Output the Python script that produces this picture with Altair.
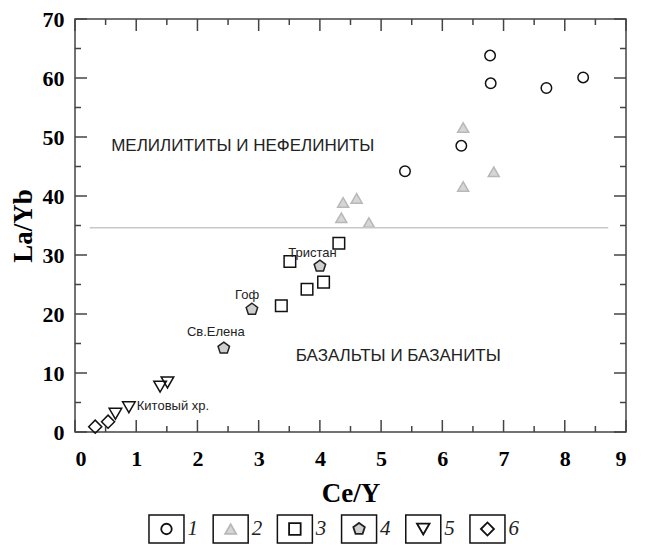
import altair as alt
import pandas as pd

# ---- data ----
circle_x = [6.78, 6.79, 7.70, 8.30, 6.31, 5.39]
circle_y = [63.8, 59.1, 58.3, 60.1, 48.5, 44.2]
tri_x = [6.34, 6.84, 6.34, 4.60, 4.38, 4.35, 4.80]
tri_y = [51.6, 44.1, 41.6, 39.6, 38.9, 36.3, 35.5]
sq_x = [4.31, 3.51, 4.06, 3.79, 3.37]
sq_y = [32.0, 28.9, 25.4, 24.2, 21.4]
pent_x = [4.00, 2.89, 2.43]
pent_y = [28.1, 20.8, 14.2]
tdown_x = [1.51, 1.39, 0.88, 0.66]
tdown_y = [8.4, 7.7, 4.2, 3.1]
dia_x = [0.33, 0.54]
dia_y = [0.9, 1.75]

groups = ["1", "2", "3", "4", "5", "6"]

site_labels = ["Тристан", "Гоф", "Св.Елена", "Китовый хр."]
site_x = [3.88, 2.81, 2.30, 1.60]
site_y = [30.3, 23.3, 16.9, 4.4]

region_labels = ["МЕЛИЛИТИТЫ И НЕФЕЛИНИТЫ", "БАЗАЛЬТЫ И БАЗАНИТЫ"]
region_x = [2.74, 5.28]
region_y = [48.5, 12.85]

line_x1, line_x2, line_y = [0.24], [8.71], [34.6]

x_major = list(range(0, 10))
x_minor = [i + 0.5 for i in range(0, 9)]
y_major = list(range(0, 71, 10))
y_minor = list(range(5, 70, 10))

# ---- build tables ----
rows = []
for g, xs_, ys_ in zip(groups, [circle_x, tri_x, sq_x, pent_x, tdown_x, dia_x],
                       [circle_y, tri_y, sq_y, pent_y, tdown_y, dia_y]):
    for a, b in zip(xs_, ys_):
        rows.append({"g": g, "x": a, "y": b})
pts = pd.DataFrame(rows)
sites = pd.DataFrame({"t": site_labels, "x": site_x, "y": site_y})
regions = pd.DataFrame({"t": region_labels, "x": region_x, "y": region_y})
hline = pd.DataFrame({"x1": line_x1, "x2": line_x2, "y": line_y})

PENT = "M0,-1L0.951,-0.309L0.588,0.809L-0.588,0.809L-0.951,-0.309Z"
shape_range = ["circle", "triangle-up", "square", PENT, "triangle-down", "diamond"]
fill_range = ["transparent", "#d6d6d6", "transparent", "#cfcfcf", "transparent", "transparent"]
stroke_range = ["#111111", "#b8b8b8", "#111111", "#222222", "#111111", "#111111"]

W, H = 551, 413
MAJ, MIN = 12, 6
xs = alt.Scale(domain=[0, 9], nice=False, zero=False)
ys = alt.Scale(domain=[0, 70], nice=False, zero=False)
TC = "#444444"
SERIF = "Liberation Serif"
SANS = "Liberation Sans"

lab_kw = dict(labelFont=SERIF, labelFontWeight="bold", labelFontSize=22,
              labelColor="black", titleFont=SERIF, titleFontWeight="bold",
              titleFontSize=27, titleColor="black", ticks=False, domain=False,
              grid=False)
X_AX = alt.Axis(values=x_major, title="Ce/Y", labelPadding=16, titlePadding=11, **lab_kw)
Y_AX = alt.Axis(values=y_major, title="La/Yb", labelPadding=11, titlePadding=5, **lab_kw)


def X(field):
    return alt.X(field, scale=xs, axis=X_AX)


def Y(field):
    return alt.Y(field, scale=ys, axis=Y_AX)


points = alt.Chart(pts).mark_point(filled=True, strokeWidth=1.5, opacity=1).encode(
    x=X("x:Q"), y=Y("y:Q"),
    shape=alt.Shape("g:N", scale=alt.Scale(domain=groups, range=shape_range), legend=None),
    fill=alt.Fill("g:N", scale=alt.Scale(domain=groups, range=fill_range), legend=None),
    stroke=alt.Stroke("g:N", scale=alt.Scale(domain=groups, range=stroke_range), legend=None),
    size=alt.Size("g:N", scale=alt.Scale(domain=groups, range=[110, 170, 120, 100, 150, 90]),
                  legend=None),
)

rule = alt.Chart(hline).mark_rule(color="#c8c8c8", strokeWidth=1.5).encode(
    x=X("x1:Q"), x2="x2:Q", y=Y("y:Q"),
)


def xticks(values, side, length):
    df = pd.DataFrame({"x": values})
    if side == "bottom":
        yy, yy2 = alt.value(H), alt.value(H - length)
    else:
        yy, yy2 = alt.value(0), alt.value(length)
    return alt.Chart(df).mark_rule(color=TC, strokeWidth=1.5).encode(
        x=X("x:Q"), y=yy, y2=yy2)


def yticks(values, side, length):
    df = pd.DataFrame({"y": values})
    if side == "left":
        xx, xx2 = alt.value(0), alt.value(length)
    else:
        xx, xx2 = alt.value(W), alt.value(W - length)
    return alt.Chart(df).mark_rule(color=TC, strokeWidth=1.5).encode(
        y=Y("y:Q"), x=xx, x2=xx2)


ticks = [xticks(x_major, "bottom", MAJ), xticks(x_minor, "bottom", MIN),
         xticks(x_major, "top", MAJ), xticks(x_minor, "top", MIN),
         yticks(y_major, "left", MAJ), yticks(y_minor, "left", MIN),
         yticks(y_major, "right", MAJ), yticks(y_minor, "right", MIN)]

site_text = alt.Chart(sites).mark_text(font=SANS, fontSize=13, color="#222222").encode(
    x=X("x:Q"), y=Y("y:Q"), text="t:N",
)

region_text = alt.Chart(regions).mark_text(font=SANS, fontSize=17, color="#222222").encode(
    x=X("x:Q"), y=Y("y:Q"), text="t:N",
)

main = alt.layer(points, rule, *ticks, site_text, region_text).properties(
    width=W, height=H, view=alt.ViewBackground(stroke="#444444", strokeWidth=1.5))

# ---- legend strip ----
leg_pos = [1, 2, 3, 4, 5, 6]
leg = pd.DataFrame({"g": groups, "p": leg_pos})
lx = alt.Scale(domain=[-0.425, 8.158], nice=False, zero=False)
BOX = "M-1.25,-1L1.25,-1L1.25,1L-1.25,1Z"

boxes = alt.Chart(leg).mark_point(shape=BOX, size=784, filled=False, stroke="#111111",
                                  strokeWidth=1.5, opacity=1).encode(
    x=alt.X("p:Q", scale=lx, axis=None))
syms = alt.Chart(leg).mark_point(filled=True, strokeWidth=1.8, opacity=1).encode(
    x=alt.X("p:Q", scale=lx, axis=None),
    shape=alt.Shape("g:N", scale=alt.Scale(domain=groups, range=shape_range), legend=None),
    fill=alt.Fill("g:N", scale=alt.Scale(domain=groups, range=fill_range), legend=None),
    stroke=alt.Stroke("g:N", scale=alt.Scale(domain=groups, range=stroke_range), legend=None),
    size=alt.Size("g:N", scale=alt.Scale(domain=groups, range=[180, 300, 200, 240, 300, 170]),
                  legend=None),
)
nums = alt.Chart(leg).mark_text(font=SERIF, fontStyle="italic", fontSize=21, align="left",
                                baseline="middle", dx=21, color="#222222").encode(
    x=alt.X("p:Q", scale=lx, axis=None), text="g:N")

legend = alt.layer(boxes, syms, nums).properties(
    width=W, height=28, view=alt.ViewBackground(stroke=None))

chart = alt.vconcat(main, legend, spacing=5).properties(
    padding={"left": 0, "top": -1, "right": 0, "bottom": 0}
).configure_view(stroke=None).configure(background="white")

chart.save("out.html", embed_options={"renderer": "svg", "actions": False})
